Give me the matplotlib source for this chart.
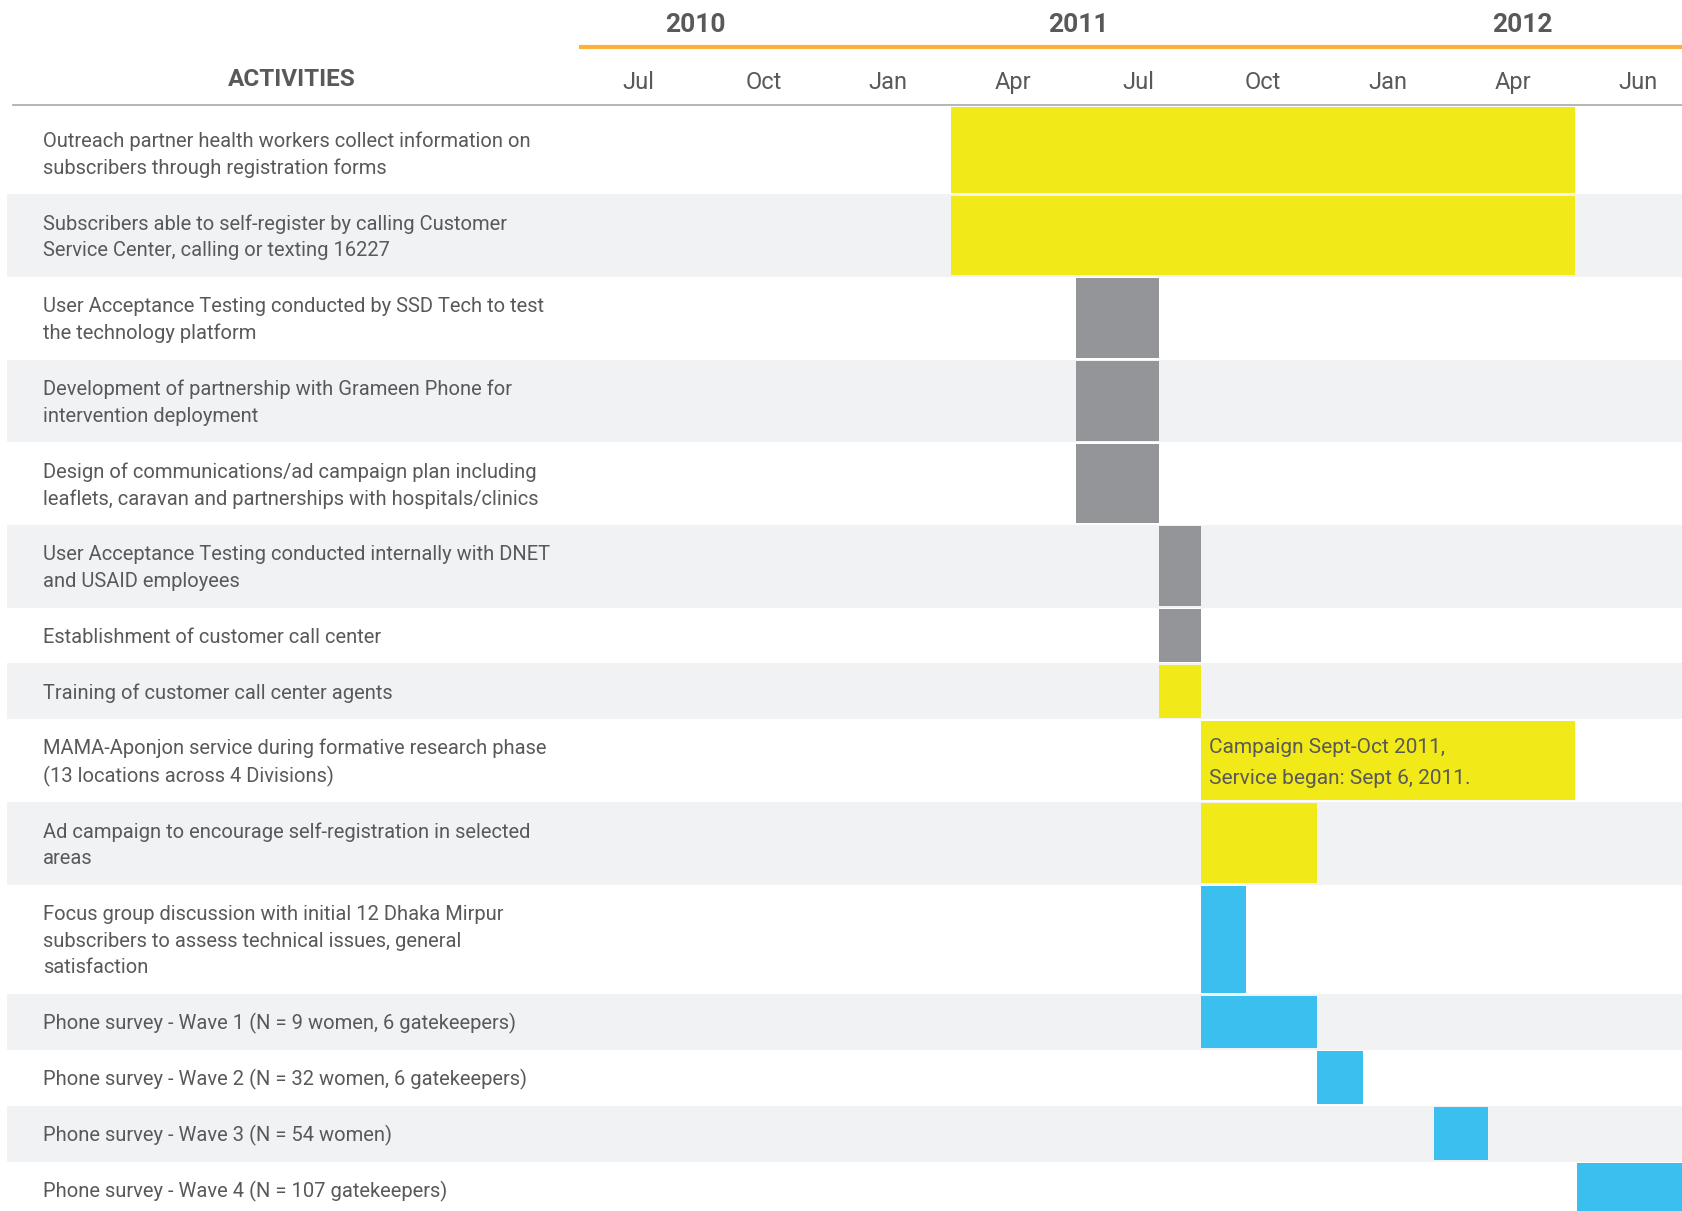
import matplotlib
matplotlib.use("Agg")
import matplotlib.pyplot as plt
import matplotlib.transforms as mtransforms

# ---- data ----
activities = [
    "Outreach partner health workers collect information on\nsubscribers through registration forms",
    "Subscribers able to self-register by calling Customer\nService Center, calling or texting 16227",
    "User Acceptance Testing conducted by SSD Tech to test\nthe technology platform",
    "Development of partnership with Grameen Phone for\nintervention deployment",
    "Design of communications/ad campaign plan including\nleaflets, caravan and partnerships with hospitals/clinics",
    "User Acceptance Testing conducted internally with DNET\nand USAID employees",
    "Establishment of customer call center",
    "Training of customer call center agents",
    "MAMA-Aponjon service during formative research phase\n(13 locations across 4 Divisions)",
    "Ad campaign to encourage self-registration in selected\nareas",
    "Focus group discussion with initial 12 Dhaka Mirpur\nsubscribers to assess technical issues, general\nsatisfaction",
    "Phone survey - Wave 1 (N = 9 women, 6 gatekeepers)",
    "Phone survey - Wave 2 (N = 32 women, 6 gatekeepers)",
    "Phone survey - Wave 3 (N = 54 women)",
    "Phone survey - Wave 4 (N = 107 gatekeepers)",
]
# months counted from the start of Jul 2010
bar_start = [8, 8, 11, 11, 11, 13, 13, 13, 14, 14, 14, 14, 16.8, 19.6, 23.05]
bar_end = [23, 23, 13, 13, 13, 14, 14, 14, 23, 16.8, 15.1, 16.8, 17.9, 20.9, 26]
bar_kind = ["yellow", "yellow", "grey", "grey", "grey", "grey", "grey", "yellow",
            "yellow", "yellow", "blue", "blue", "blue", "blue", "blue"]
bar_note = {8: "Campaign Sept-Oct 2011,\nService began: Sept 6, 2011."}

month_ticks = [0.5, 3.5, 6.5, 9.5, 12.5, 15.5, 18.5, 21.5, 24.5]
month_labels = ["Jul", "Oct", "Jan", "Apr", "Jul", "Oct", "Jan", "Apr", "Jun"]
year_pos = [1.87, 11.07, 21.72]
year_labels = ["2010", "2011", "2012"]

# ---- style ----
COLORS = {"yellow": "#f2ea18", "grey": "#949599", "blue": "#3bbfef"}
TEXT = "#58595b"
ROW_BG = "#f1f2f4"
ORANGE = "#fbb23a"
RULE = "#a7a9ac"

plt.rcParams["font.family"] = ["Roboto", "DejaVu Sans"]

W, H = 1683, 1211
fig = plt.figure(figsize=(W / 100, H / 100), dpi=100)
ax = fig.add_axes([0, 0, 1, 1])
ax.set_xlim(-14.84, 25.59)
ax.set_ylim(H, 0)   # y in pixels, top down
ax.axis("off")
xa = mtransforms.blended_transform_factory(ax.transAxes, ax.transData)

header_y = 105.2
first_pad = 6.4
y = header_y
for i, (label, s, e, kind) in enumerate(zip(activities, bar_start, bar_end, bar_kind)):
    n = label.count("\n") + 1
    h = 29.0 + 26.83 * n
    top = y
    bottom = y + h + (first_pad if i == 0 else 0)
    center = bottom - h / 2
    if i % 2 == 1:
        ax.fill_between([0.0042, 1], top, bottom, color=ROW_BG, lw=0,
                        transform=xa, zorder=0)
    ax.text(43 / W, center + 1.8, label, transform=xa, ha="left", va="center",
            fontsize=14.5, color=TEXT, linespacing=1.48, zorder=3)
    ax.fill_between([s, e], top + 1.5, bottom - 1.5, color=COLORS[kind],
                    lw=0, zorder=2)
    if i in bar_note:
        ax.text(s + 0.2, center + 2.5, bar_note[i], ha="left", va="center",
                fontsize=15, color=TEXT, linespacing=1.85, zorder=3)
    y = bottom

# header
ax.plot([-0.92, 25.59], [47.2, 47.2], color=ORANGE, lw=3, solid_capstyle="butt",
        clip_on=False)
ax.plot([12.9 / W, 1], [header_y, header_y], color=RULE, lw=1.2, transform=xa)
for xp, lab in zip(year_pos, year_labels):
    ax.text(xp, 24.5, lab, ha="center", va="center", fontsize=19,
            fontweight="bold", color=TEXT)
for xp, lab in zip(month_ticks, month_labels):
    ax.text(xp, 82.5, lab, ha="center", va="center", fontsize=17, color=TEXT)
ax.text(292 / W, 79.5, "ACTIVITIES", transform=xa, ha="center", va="center",
        fontsize=17.5, fontweight="bold", color=TEXT)

fig.savefig("out.png", dpi=100, facecolor="white")
